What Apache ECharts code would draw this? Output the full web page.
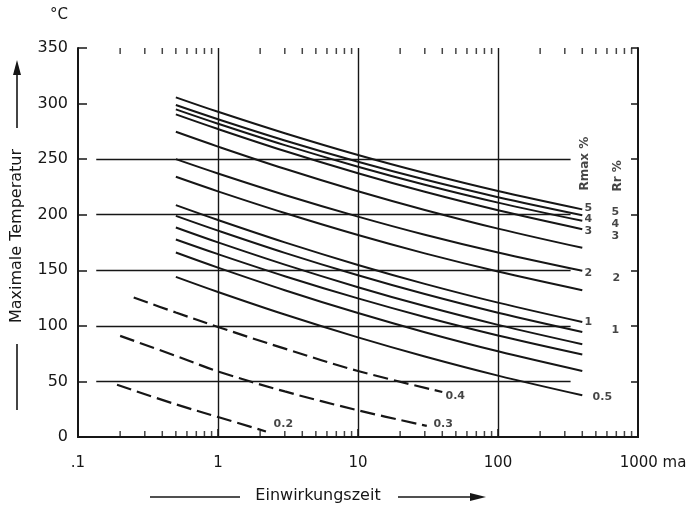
<!DOCTYPE html>
<html><head><meta charset="utf-8">
<script src="https://cdn.jsdelivr.net/npm/echarts@6/dist/echarts.min.js"></script>
<style>html,body{margin:0;padding:0;background:#fff}#c{width:690px;height:511px}</style>
</head><body><div id="c"></div>
<script>
// ---- data ----
const timePoints = [0.5, 1, 3, 10, 30, 100, 400];
const curve1  = [305.6, 292.6, 273.3, 253.7, 237.5, 221.3, 204.8];
const curve2  = [298.7, 285.9, 266.8, 247.6, 231.6, 215.8, 199.6];
const curve3  = [294.8, 281.9, 262.6, 243.2, 227.0, 210.9, 194.5];
const curve4  = [290.3, 277.1, 257.3, 237.3, 220.6, 204.0, 187.0];
const curve5  = [274.6, 261.3, 241.3, 221.1, 204.3, 187.5, 170.2];
const curve6  = [250.0, 237.1, 217.8, 198.3, 182.0, 166.0, 149.5];
const curve7  = [234.1, 221.0, 201.5, 181.7, 165.2, 148.9, 132.1];
const curve8  = [208.6, 195.2, 175.1, 154.8, 137.8, 120.9, 103.5];
const curve9  = [199.0, 185.7, 165.7, 145.5, 128.6, 111.8, 94.5];
const curve10 = [188.5, 175.1, 155.1, 134.8, 117.8, 100.9, 83.5];
const curve11 = [177.7, 164.5, 144.7, 124.7, 108.0, 91.4, 74.3];
const curve12 = [166.0, 152.4, 132.1, 111.5, 94.3, 77.1, 59.4];
const curve13 = [144.1, 130.5, 110.2, 89.6, 72.4, 55.2, 37.5];
const solidCurves = [curve1, curve2, curve3, curve4, curve5, curve6, curve7, curve8, curve9, curve10, curve11, curve12, curve13];

const dashed04Time = [0.25, 0.5, 1, 3, 10, 40];
const dashed04     = [125.5, 112, 99, 79.5, 59.4, 40.5];
const dashed03Time = [0.2, 0.5, 1, 3, 10, 31];
const dashed03     = [91, 73, 59, 41, 24, 10];
const dashed02Time = [0.19, 0.5, 1, 2.2];
const dashed02     = [47, 29.4, 18, 5];

const xTickValues = [0.1, 1, 10, 100, 1000];
const xTickLabels = ['.1', '1', '10', '100', '1000 ma'];
const xMinorTicks = [0.2,0.3,0.4,0.5,0.6,0.7,0.8,0.9, 2,3,4,5,6,7,8,9, 20,30,40,50,60,70,80,90, 200,300,400,500,600,700,800,900];
const gridRows = [50, 100, 150, 200, 250];
const gridCols = [1, 10, 100];

// annotations: [time, value, text]
const rmaxLabels = [[442, 206, '5'], [442, 196, '4'], [442, 185, '3'], [442, 147, '2'], [442, 103, '1']];
const rrLabels   = [[689, 202, '5'], [689, 191.5, '4'], [689, 181, '3'], [700, 143, '2'], [689, 96, '1']];
const paramLabels = [[556, 35.7, '0.5'], [49.5, 36.6, '0.4'], [40.6, 11.4, '0.3'], [2.93, 11.4, '0.2']];
const headLabels = [[420, 246, 'Rmax %'], [715, 235, 'Rr %']];

// ---- chart ----
const FONT = 'DejaVu Sans';
const INK = '#161616';
const chart = echarts.init(document.getElementById('c'), null, {renderer: 'canvas'});

const series = [];
solidCurves.forEach(c => series.push({
  type: 'line', xAxisIndex: 0, yAxisIndex: 0, smooth: 0.35, showSymbol: false, silent: true,
  data: timePoints.map((t, i) => [t, c[i]]),
  lineStyle: {color: INK, width: 2}
}));
[[dashed04Time, dashed04], [dashed03Time, dashed03], [dashed02Time, dashed02]].forEach(([ts, vs]) => series.push({
  type: 'line', smooth: 0.35, showSymbol: false, silent: true,
  data: ts.map((t, i) => [t, vs[i]]),
  lineStyle: {color: INK, width: 2.2, type: [15, 6]}
}));
// grid lines
series.push({
  type: 'line', data: [], silent: true,
  markLine: {
    silent: true, symbol: 'none', label: {show: false}, animation: false,
    lineStyle: {color: INK, width: 1.4, type: 'solid'},
    data: gridCols.map(x => ({xAxis: x})).concat(gridRows.map(y => [{coord: [0.135, y]}, {coord: [330, y]}]))
  }
});
// minor ticks bottom/top
series.push({
  type: 'scatter', silent: true, symbol: 'rect', symbolSize: [1.5, 6], symbolOffset: [0, -3],
  itemStyle: {color: INK}, data: xMinorTicks.map(t => [t, 0])
});
series.push({
  type: 'scatter', silent: true, symbol: 'rect', symbolSize: [1.5, 6], symbolOffset: [0, 3],
  itemStyle: {color: INK}, data: xMinorTicks.map(t => [t, 350])
});
function labelSeries(arr, opts) {
  return Object.assign({
    type: 'scatter', silent: true, symbolSize: 0,
    data: arr.map(a => ({value: [a[0], a[1]], name: a[2]})),
    label: Object.assign({show: true, position: 'inside', formatter: '{b}', color: INK,
      fontFamily: FONT, fontSize: 11, fontWeight: 'bold', backgroundColor: '#fff', padding: [0, 1]}, opts || {})
  });
}
series.push(labelSeries(rmaxLabels));
series.push(labelSeries(rrLabels));
series.push(labelSeries(paramLabels));
series.push(labelSeries(headLabels, {rotate: 90, fontSize: 12}));

const axisLineStyle = {color: INK, width: 2};
chart.setOption({
  animation: false,
  backgroundColor: '#fff',
  grid: {left: 78, right: 52, top: 48, bottom: 74},
  xAxis: [{
    type: 'log', logBase: 10, min: 0.1, max: 1000, position: 'bottom',
    axisLine: {show: true, lineStyle: axisLineStyle},
    axisTick: {show: true, inside: true, length: 8, lineStyle: {color: INK, width: 1.5}},
    splitLine: {show: false}, minorTick: {show: false},
    axisLabel: {
      margin: 19, color: INK, fontFamily: FONT, fontSize: 15,
      formatter: v => {
        const i = xTickValues.findIndex(x => Math.abs(Math.log10(x) - Math.log10(v)) < 1e-6);
        const s = i >= 0 ? xTickLabels[i] : '';
        return s === '1000 ma' ? '{p|}1000 ma' : s;
      },
      rich: {p: {width: 30}}
    }
  }, {
    type: 'log', logBase: 10, min: 0.1, max: 1000, position: 'top',
    axisLine: {show: true, lineStyle: axisLineStyle},
    axisTick: {show: false}, axisLabel: {show: false}, splitLine: {show: false}
  }],
  yAxis: [{
    type: 'value', min: 0, max: 350, interval: 50, position: 'left',
    axisLine: {show: true, lineStyle: axisLineStyle},
    axisTick: {show: true, inside: true, length: 9, lineStyle: {color: INK, width: 1.5}},
    splitLine: {show: false},
    axisLabel: {margin: 10, color: INK, fontFamily: FONT, fontSize: 16}
  }, {
    type: 'value', min: 0, max: 350, interval: 50, position: 'right',
    axisLine: {show: true, lineStyle: axisLineStyle},
    axisTick: {show: true, inside: true, length: 7, lineStyle: {color: INK, width: 1.5}},
    axisLabel: {show: false}, splitLine: {show: false}
  }],
  series: series,
  graphic: [
    {type: 'text', left: 50, top: 8, style: {text: '°C', font: '15px "DejaVu Sans"', fill: INK}},
    {type: 'text', x: 17, y: 236, rotation: Math.PI / 2,
     style: {text: 'Maximale Temperatur', font: '16px "DejaVu Sans"', fill: INK, align: 'center', verticalAlign: 'middle'}},
    {type: 'line', shape: {x1: 17, y1: 344, x2: 17, y2: 410}, style: {stroke: INK, lineWidth: 1.6}},
    {type: 'line', shape: {x1: 17, y1: 128, x2: 17, y2: 72}, style: {stroke: INK, lineWidth: 1.6}},
    {type: 'polygon', shape: {points: [[17, 60], [13, 75], [21, 75]]}, style: {fill: INK}},
    {type: 'text', x: 318, y: 496,
     style: {text: 'Einwirkungszeit', font: '16px "DejaVu Sans"', fill: INK, align: 'center', verticalAlign: 'middle'}},
    {type: 'line', shape: {x1: 150, y1: 497, x2: 240, y2: 497}, style: {stroke: INK, lineWidth: 1.6}},
    {type: 'line', shape: {x1: 398, y1: 497, x2: 472, y2: 497}, style: {stroke: INK, lineWidth: 1.6}},
    {type: 'polygon', shape: {points: [[486, 497], [470, 493], [470, 501]]}, style: {fill: INK}}
  ]
});
</script></body></html>
